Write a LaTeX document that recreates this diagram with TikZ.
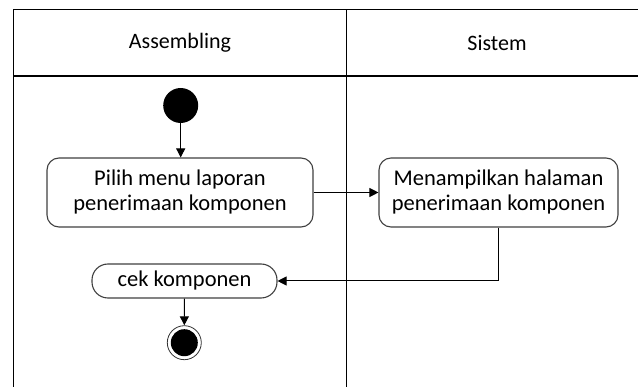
\documentclass[tikz,border=0pt]{standalone}
\usepackage{fontspec}
\setmainfont{Carlito}
\usetikzlibrary{arrows.meta}
\tikzset{
  lane/.style={line width=1.2pt, draw=black},
  actbox/.style={draw=black!75, line width=1.1pt, rounded corners=12pt, align=center,
    font=\fontsize{22.5}{25}\selectfont, inner sep=0pt, fill=white},
  pill/.style={draw=black!75, line width=1.1pt, rounded corners=16pt, align=center,
    font=\fontsize{22.5}{25}\selectfont, inner sep=0pt, fill=white},
  flow/.style={line width=1pt, draw=black, -{Triangle[length=9pt,width=9pt]}},
  hdr/.style={font=\fontsize{22}{25}\selectfont, inner sep=0pt}
}
\begin{document}
\begin{tikzpicture}[x=1pt,y=-1pt]
\useasboundingbox (0,0) rectangle (638,387);
% swimlane frame
\coordinate (tl) at (13.5,9.5);
\coordinate (tr) at (638,9.5);
\coordinate (hl) at (13.5,76);
\coordinate (hr) at (638,76);
\coordinate (bl) at (13.5,387);
\coordinate (mt) at (346.5,9.5);
\coordinate (mb) at (346.5,387);
\draw[lane] (tl) -- (tr);
\draw[lane] (hl) -- (hr);
\draw[lane] (tl) -- (bl);
\draw[lane] (mt) -- (mb);
% headers
\node[hdr] (h1) at (180,43) {Assembling};
\node[hdr] (h2) at (497,43) {Sistem};
% nodes
\node[circle, fill=black, minimum size=35pt, inner sep=0pt] (start) at (180.7,105.5) {};
\node[actbox, minimum width=266pt, minimum height=69pt] (b1) at (180,192.5)
  {Pilih menu laporan\\penerimaan komponen};
\node[actbox, minimum width=239pt, minimum height=69pt] (b2) at (498.5,192.5)
  {Menampilkan halaman\\penerimaan komponen};
\node[pill, minimum width=185pt, minimum height=34pt] (cek) at (184.5,281)
  {cek komponen};
\node[circle, draw=black!80, line width=0.8pt, minimum size=34pt, inner sep=0pt] (end) at (184.3,342.7) {};
\node[circle, fill=black, minimum size=27pt, inner sep=0pt] (endin) at (end.center) {};
% connectors
\draw[flow] (start.south) -- (start.south |- b1.north);
\draw[flow] (b1.east) -- (b2.west);
\draw[flow] (b2.south) |- (cek.east);
\draw[flow] (cek.south) -- (end.north);
\end{tikzpicture}
\end{document}
